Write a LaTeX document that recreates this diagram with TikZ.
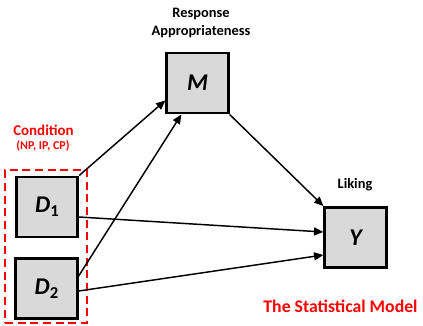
\documentclass[tikz,border=0pt]{standalone}
\usepackage{fontspec}
\setmainfont{Carlito}
\usetikzlibrary{arrows.meta,calc}
\definecolor{boxgray}{HTML}{D9D9D9}
\definecolor{lblred}{HTML}{FF0000}
\newcommand{\mysub}[1]{\raisebox{-0.35ex}{\fontsize{12.5}{12.5}\selectfont\upshape #1}}
\begin{document}
\begin{tikzpicture}[x=0.75pt,y=-0.75pt,
  var/.style={draw=black,fill=boxgray,line width=2.2pt,minimum width=46pt,minimum height=45pt,inner sep=0pt,font=\fontsize{18}{20}\selectfont\bfseries\itshape},
  lbl/.style={font=\fontsize{10.8}{13}\selectfont\bfseries,align=center},
  arr/.style={line width=1.1pt,-{Triangle[length=7pt,width=6pt]}}]
\useasboundingbox (0,0) rectangle (423,325);
\node[var] (M) at (197.5,83) {M};
\node[var] (D1) at (47,207) {D\mysub{1}};
\node[var] (D2) at (46.5,288.5) {D\mysub{2}};
\node[var] (Y) at (355.5,237.5) {Y};
\node[draw=lblred,line width=1.6pt,dash pattern=on 6pt off 3.5pt,minimum width=61.5pt,minimum height=114.5pt,inner sep=0pt] (grp) at (46,246.5) {};
\node[lbl] (resp) at (201,23) {Response\\Appropriateness};
\node[lbl] (lik) at (355,185) {Liking};
\node[lbl,text=lblred,font=\fontsize{11.2}{12}\selectfont\bfseries] (cond) at (43.5,130) {Condition};
\node[lbl,text=lblred,font=\fontsize{9}{10}\selectfont\bfseries] (np) at (43,146) {(NP, IP, CP)};
\node[lbl,text=lblred,font=\fontsize{13.3}{14}\selectfont\bfseries] (title) at (340.5,306) {The Statistical Model};
\coordinate (mA) at ($(M.south west)+(0,-14)$);
\coordinate (mB) at ($(M.south west)+(16,0)$);
\coordinate (d2s) at ($(D2.north east)+(0,19)$);
\coordinate (d1s) at ($(D1.east)+(0,10)$);
\coordinate (yA) at ($(Y.west)+(0,-5.5)$);
\coordinate (yB) at ($(Y.west)+(0,17.5)$);
\coordinate (d2t) at ($(D2.east)+(0,2.5)$);
\draw[arr] (D1.north east) -- (mA);
\draw[arr] (d2s) -- (mB);
\draw[arr] (d1s) -- (yA);
\draw[arr] (d2t) -- (yB);
\draw[arr] (M.south east) -- (Y.north west);
\end{tikzpicture}
\end{document}
